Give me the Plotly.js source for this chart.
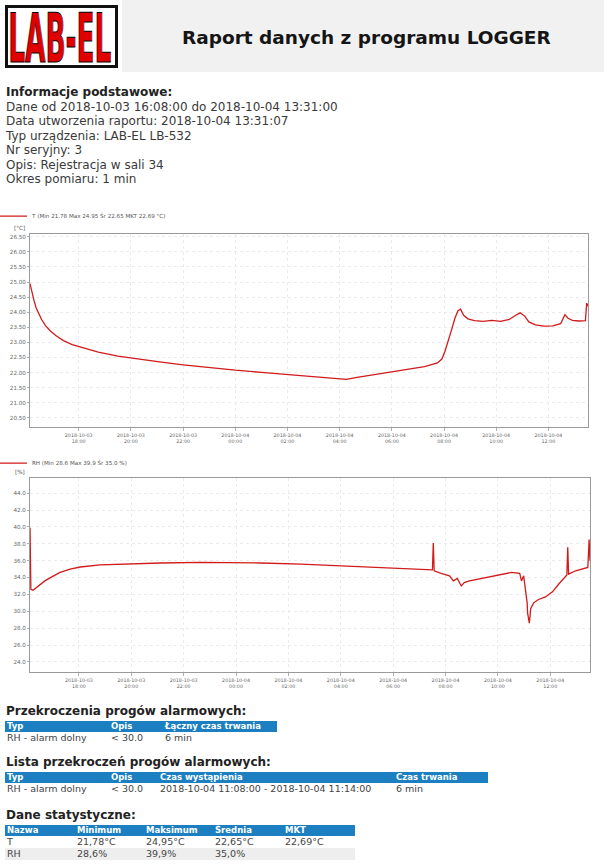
<!DOCTYPE html>
<html><head><meta charset="utf-8">
<script src="https://cdn.plot.ly/plotly-3.0.1.min.js"></script>
<style>
html,body{margin:0;padding:0}
body{width:604px;height:865px;overflow:hidden;background:#fff;font-family:"DejaVu Sans",Verdana,sans-serif;color:#222;position:relative}
#hdr{position:absolute;left:122px;top:0;width:482px;height:72px;background:#f1f1f1}
#title{position:absolute;left:182px;top:27px;font-size:18.5px;font-weight:bold;color:#151515;white-space:nowrap}
#logo{position:absolute;left:5px;top:5px;width:107px;height:57px;border:3px solid #111;background:#fff;overflow:visible}
#logo svg{position:absolute;left:0;top:0;overflow:visible}
#info{position:absolute;left:6px;top:85px;font-size:12px;line-height:14.5px;color:#3a3a3a;white-space:nowrap}
.h{font-weight:bold;color:#222}
.sec{position:absolute;left:6px;font-size:12px;line-height:14px;font-weight:bold;color:#222;white-space:nowrap}
table{position:absolute;left:5px;border-collapse:collapse;table-layout:fixed;font-size:9.5px;color:#444}
th{background:#1b7fc1;color:#fff;text-align:left;font-weight:bold;font-size:8.5px;height:11px;line-height:11px;padding:0 0 0 2px;white-space:nowrap;overflow:hidden}
td{height:12px;line-height:12px;padding:0 0 0 2px;white-space:nowrap}
tr.alt td{background:#eeeeee}
.chart{position:absolute;left:0;width:604px}
</style></head>
<body>
<div id="hdr"></div>
<div id="logo"><svg id="logosvg" width="107" height="57"><text id="logotxt" x="0" y="0" font-family="Liberation Sans Narrow, DejaVu Sans Condensed, sans-serif" font-weight="bold" font-size="34" fill="#e10000" stroke="#000" stroke-width="0.5">LAB-EL</text></svg></div>
<div id="title">Raport danych z programu LOGGER</div>
<div id="info">
<div class="h">Informacje podstawowe:</div>
<div>Dane od 2018-10-03 16:08:00 do 2018-10-04 13:31:00</div>
<div>Data utworzenia raportu: 2018-10-04 13:31:07</div>
<div>Typ urządzenia: LAB-EL LB-532</div>
<div>Nr seryjny: 3</div>
<div>Opis: Rejestracja w sali 34</div>
<div>Okres pomiaru: 1 min</div>
</div>

<div id="c1" class="chart" style="top:200px;height:252px"></div>
<div id="c2" class="chart" style="top:452px;height:248px"></div>

<div class="sec" style="top:704px">Przekroczenia progów alarmowych:</div>
<table style="top:721px;width:272px">
<colgroup><col style="width:104px"><col style="width:54px"><col style="width:114px"></colgroup>
<tr><th>Typ</th><th>Opis</th><th>Łączny czas trwania</th></tr>
<tr><td>RH - alarm dolny</td><td>&lt; 30.0</td><td>6 min</td></tr>
</table>

<div class="sec" style="top:755px">Lista przekroczeń progów alarmowych:</div>
<table style="top:772px;width:483px">
<colgroup><col style="width:104px"><col style="width:49px"><col style="width:236px"><col style="width:94px"></colgroup>
<tr><th>Typ</th><th>Opis</th><th>Czas wystąpienia</th><th>Czas trwania</th></tr>
<tr><td>RH - alarm dolny</td><td>&lt; 30.0</td><td>2018-10-04 11:08:00 - 2018-10-04 11:14:00</td><td>6 min</td></tr>
</table>

<div class="sec" style="top:808px">Dane statystyczne:</div>
<table style="top:825px;width:350px">
<colgroup><col style="width:70px"><col style="width:69px"><col style="width:69px"><col style="width:70px"><col style="width:72px"></colgroup>
<tr><th>Nazwa</th><th>Minimum</th><th>Maksimum</th><th>Średnia</th><th>MKT</th></tr>
<tr><td>T</td><td>21,78°C</td><td>24,95°C</td><td>22,65°C</td><td>22,69°C</td></tr>
<tr class="alt"><td>RH</td><td>28,6%</td><td>39,9%</td><td>35,0%</td><td></td></tr>
</table>

<script>
// ---- data ----
const tTimes = ['2018-10-03 16:08','2018-10-03 16:10','2018-10-03 16:13','2018-10-03 16:17','2018-10-03 16:22','2018-10-03 16:28','2018-10-03 16:35','2018-10-03 16:44','2018-10-03 16:55','2018-10-03 17:08','2018-10-03 17:25','2018-10-03 17:45','2018-10-03 18:10','2018-10-03 18:45','2018-10-03 19:30','2018-10-03 20:20','2018-10-03 21:10','2018-10-03 22:00','2018-10-03 23:00','2018-10-04 00:00','2018-10-04 01:00','2018-10-04 02:00','2018-10-04 03:00','2018-10-04 04:00','2018-10-04 04:15','2018-10-04 04:40','2018-10-04 05:20','2018-10-04 06:00','2018-10-04 06:40','2018-10-04 07:15','2018-10-04 07:45','2018-10-04 07:55','2018-10-04 08:02','2018-10-04 08:10','2018-10-04 08:18','2018-10-04 08:25','2018-10-04 08:32','2018-10-04 08:38','2018-10-04 08:45','2018-10-04 08:55','2018-10-04 09:10','2018-10-04 09:30','2018-10-04 09:50','2018-10-04 10:10','2018-10-04 10:30','2018-10-04 10:45','2018-10-04 10:55','2018-10-04 11:05','2018-10-04 11:15','2018-10-04 11:30','2018-10-04 11:50','2018-10-04 12:10','2018-10-04 12:28','2018-10-04 12:38','2018-10-04 12:45','2018-10-04 12:55','2018-10-04 13:10','2018-10-04 13:25','2018-10-04 13:28','2018-10-04 13:31'];
const tValues = [24.95,24.80,24.60,24.40,24.15,23.95,23.75,23.55,23.38,23.22,23.06,22.93,22.82,22.68,22.55,22.44,22.35,22.26,22.16,22.08,22.01,21.94,21.87,21.80,21.78,21.84,21.93,22.01,22.10,22.20,22.32,22.45,22.70,23.05,23.45,23.80,24.05,24.10,23.90,23.78,23.72,23.70,23.73,23.70,23.76,23.90,23.98,23.88,23.68,23.58,23.54,23.55,23.62,23.92,23.80,23.73,23.71,23.72,24.30,24.20];

const rhTimes = ['2018-10-03 16:08','2018-10-03 16:09','2018-10-03 16:10','2018-10-03 16:15','2018-10-03 16:22','2018-10-03 16:31','2018-10-03 16:42','2018-10-03 16:59','2018-10-03 17:17','2018-10-03 17:40','2018-10-03 18:03','2018-10-03 18:49','2018-10-03 19:58','2018-10-03 21:07','2018-10-03 22:39','2018-10-03 23:48','2018-10-04 00:57','2018-10-04 02:29','2018-10-04 04:24','2018-10-04 06:18','2018-10-04 07:23','2018-10-04 07:30','2018-10-04 07:32','2018-10-04 07:34','2018-10-04 07:50','2018-10-04 08:09','2018-10-04 08:18','2018-10-04 08:27','2018-10-04 08:36','2018-10-04 08:43','2018-10-04 08:55','2018-10-04 09:22','2018-10-04 09:56','2018-10-04 10:31','2018-10-04 10:50','2018-10-04 10:54','2018-10-04 10:59','2018-10-04 11:03','2018-10-04 11:07','2018-10-04 11:08','2018-10-04 11:10','2018-10-04 11:12','2018-10-04 11:14','2018-10-04 11:15','2018-10-04 11:22','2018-10-04 11:33','2018-10-04 11:49','2018-10-04 12:05','2018-10-04 12:19','2018-10-04 12:31','2018-10-04 12:38','2018-10-04 12:40','2018-10-04 12:42','2018-10-04 12:58','2018-10-04 13:14','2018-10-04 13:26','2018-10-04 13:29','2018-10-04 13:31'];
const rhValues = [39.9,35.5,32.6,32.5,32.8,33.1,33.6,34.1,34.6,35.0,35.25,35.5,35.65,35.72,35.8,35.8,35.72,35.6,35.35,35.1,34.95,34.9,38.1,34.8,34.5,34.2,33.6,33.9,33.0,33.4,33.6,33.9,34.3,34.6,34.5,33.6,34.2,32.5,31.0,29.8,29.0,28.6,29.6,30.3,31.0,31.4,31.7,32.3,33.2,33.9,34.3,37.6,34.4,34.8,35.0,35.2,38.5,36.0];

const tLegend = 'T (Min 21.78 Max 24.95 Śr 22.65 MKT 22.69 °C)';
const rhLegend = 'RH (Min 28.6 Max 39.9 Śr 35.0 %)';
const xStart = '2018-10-03 16:08', xEnd = '2018-10-04 13:31';

// logo fit: map glyph bounds into the box interior
(function(){
  const t=document.getElementById('logotxt');
  const b=t.getBBox();
  const c=document.createElement('canvas').getContext('2d');
  c.font='bold 34px "Liberation Sans Narrow", "DejaVu Sans Condensed", sans-serif';
  const m=c.measureText('LAB-EL');
  const asc=m.actualBoundingBoxAscent||24, desc=m.actualBoundingBoxDescent||0;
  const left=m.actualBoundingBoxLeft||0, right=m.actualBoundingBoxRight||b.width;
  const sx=101/(left+right), sy=50/(asc+desc);
  t.setAttribute('transform','translate('+(2+left*sx)+','+(4+asc*sy)+') scale('+sx+','+sy+')');
})();

const lineColor = '#d11a1a';
function axisX(){return {type:'date',range:[xStart,xEnd],tick0:'2018-10-03 18:00',dtick:7200000,tickformat:'%Y-%m-%d<br>%H:%M',showgrid:true,gridcolor:'#ebebeb',griddash:'dot',gridwidth:1,showline:true,linecolor:'#9a9a9a',linewidth:1,mirror:true,ticks:'outside',ticklen:3,tickcolor:'#b0b0b0',tickfont:{size:4.8,color:'#666'},zeroline:false,fixedrange:true};}
function axisY(r,d,t0,fmt){return {range:r,dtick:d,tick0:t0,tickformat:fmt,showgrid:true,gridcolor:'#ebebeb',griddash:'dot',showline:true,linecolor:'#9a9a9a',mirror:true,ticks:'outside',ticklen:2,tickcolor:'#b0b0b0',tickfont:{size:5.6,color:'#666'},zeroline:false,fixedrange:true};}
function layout(h,m,yax,unit,legY){m.autoexpand=false;return {width:604,height:h,margin:m,paper_bgcolor:'rgba(0,0,0,0)',plot_bgcolor:'#fff',font:{family:'DejaVu Sans, sans-serif',size:5.6,color:'#555'},xaxis:axisX(),yaxis:yax,showlegend:true,legend:{x:-0.068,y:legY,xanchor:'left',yanchor:'middle',orientation:'h',font:{size:5.6,color:'#555'},bgcolor:'rgba(0,0,0,0)',borderwidth:0},annotations:[{text:unit,xref:'paper',yref:'paper',x:0,y:1,xanchor:'right',yanchor:'bottom',showarrow:false,xshift:-3,yshift:1,font:{size:5.6,color:'#555'}}]};}
const cfg={displayModeBar:false,staticPlot:true};
Plotly.newPlot('c1',[{x:tTimes,y:tValues,type:'scatter',mode:'lines',name:tLegend,line:{color:lineColor,width:1.3},showlegend:true}],layout(252,{l:30,r:16,t:34,b:25},axisY([20.2,26.59],0.5,20.5,'.2f'),'[°C]',1.093),cfg);
Plotly.newPlot('c2',[{x:rhTimes,y:rhValues,type:'scatter',mode:'lines',name:rhLegend,line:{color:lineColor,width:1.3},showlegend:true}],layout(248,{l:30,r:14,t:26,b:28},axisY([22.8,45.8],2,24,'.1f'),'[%]',1.077),cfg);
</script>
</body></html>
